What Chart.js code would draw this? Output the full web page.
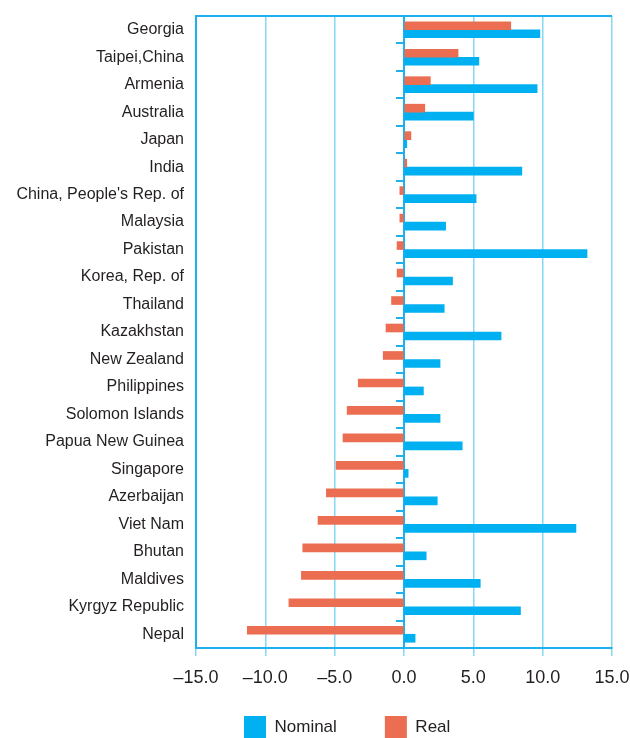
<!DOCTYPE html>
<html>
<head>
<meta charset="utf-8">
<script src="https://cdn.jsdelivr.net/npm/chart.js"></script>
<style>
  html, body { margin: 0; padding: 0; background: #fff; }
  #contenedor { width: 630px; height: 738px; }
</style>
</head>
<body>
<div id="contenedor"><canvas id="graficaSalarios"></canvas></div>
<script>
// === Datos ===
const paises = ['Georgia', 'Taipei,China', 'Armenia', 'Australia', 'Japan', 'India',
    "China, People's Rep. of", 'Malaysia', 'Pakistan', 'Korea, Rep. of', 'Thailand',
    'Kazakhstan', 'New Zealand', 'Philippines', 'Solomon Islands', 'Papua New Guinea',
    'Singapore', 'Azerbaijan', 'Viet Nam', 'Bhutan', 'Maldives', 'Kyrgyz Republic', 'Nepal'];
const nominal = [9.8, 5.4, 9.6, 5.0, 0.2, 8.5, 5.2, 3.0, 13.2, 3.5, 2.9, 7.0, 2.6, 1.4, 2.6,
    4.2, 0.3, 2.4, 12.4, 1.6, 5.5, 8.4, 0.8];
const real = [7.7, 3.9, 1.9, 1.5, 0.5, 0.2, -0.3, -0.3, -0.5, -0.5, -0.9, -1.3, -1.5, -3.3,
    -4.1, -4.4, -4.9, -5.6, -6.2, -7.3, -7.4, -8.3, -11.3];
const ejeX = { min: -15, max: 15, paso: 5 };

const azul = '#00b0f0';
const rojo = '#ec6e52';
const lineaAzul = '#1eb0ec';
const rejilla = '#86d6f5';
const texto = '#231f20';
const fuente = "'Liberation Sans', Arial, sans-serif";

// línea superior del marco
const marco = {
    id: 'marco',
    afterDraw(chart) {
        const { ctx, chartArea: a } = chart;
        ctx.save();
        ctx.strokeStyle = lineaAzul;
        ctx.lineWidth = 2;
        ctx.beginPath();
        ctx.moveTo(a.left, a.top);
        ctx.lineTo(a.right, a.top);
        ctx.stroke();
        ctx.restore();
    }
};

const ctx = document.getElementById('graficaSalarios').getContext('2d');

new Chart(ctx, {
    type: 'bar',
    data: {
        labels: paises,
        datasets: [{
            label: 'Real',
            data: real,
            backgroundColor: rojo,
            barThickness: 8
        }, {
            label: 'Nominal',
            data: nominal,
            backgroundColor: azul,
            barThickness: 8
        }]
    },
    plugins: [marco],
    options: {
        indexAxis: 'y',
        responsive: true,
        maintainAspectRatio: false,
        animation: false,
        layout: {
            padding: { left: 0, right: 0, top: 16, bottom: -10 }
        },
        plugins: {
            tooltip: { enabled: false },
            legend: {
                position: 'bottom',
                fullSize: false,
                align: 'start',
                reverse: true,
                labels: {
                    boxWidth: 22,
                    boxHeight: 22,
                    padding: 48,
                    color: texto,
                    font: { family: fuente, size: 17 }
                }
            }
        },
        scales: {
            x: {
                min: ejeX.min,
                max: ejeX.max,
                position: { y: paises.length - 0.5 },
                afterFit: (eje) => { eje.paddingRight = 18; },
                ticks: {
                    stepSize: ejeX.paso,
                    color: texto,
                    padding: 12,
                    font: { family: fuente, size: 18 },
                    callback: (v) => (v < 0 ? '\u2013' : '') + Math.abs(v).toFixed(1)
                },
                grid: {
                    color: rejilla,
                    lineWidth: 1.5,
                    tickLength: 7
                },
                border: { color: lineaAzul, width: 2 }
            },
            // espacio bajo las etiquetas del eje x
            hueco: {
                type: 'linear',
                axis: 'x',
                position: 'bottom',
                afterFit: (eje) => { eje.height = 20; },
                ticks: { display: false },
                grid: { display: false },
                border: { display: false }
            },
            y: {
                afterFit: (eje) => { eje.width = 196; },
                ticks: {
                    color: texto,
                    padding: 0,
                    font: { family: fuente, size: 16 }
                },
                grid: { display: false, tickLength: 12 },
                border: { color: lineaAzul, width: 2 }
            },
            cero: {
                type: 'category',
                axis: 'y',
                position: { x: 0 },
                offset: true,
                ticks: { display: false },
                grid: {
                    offset: true,
                    drawOnChartArea: false,
                    drawTicks: true,
                    tickLength: 7,
                    color: lineaAzul,
                    lineWidth: 2
                },
                border: { color: lineaAzul, width: 2 }
            }
        }
    }
});
</script>
</body>
</html>
